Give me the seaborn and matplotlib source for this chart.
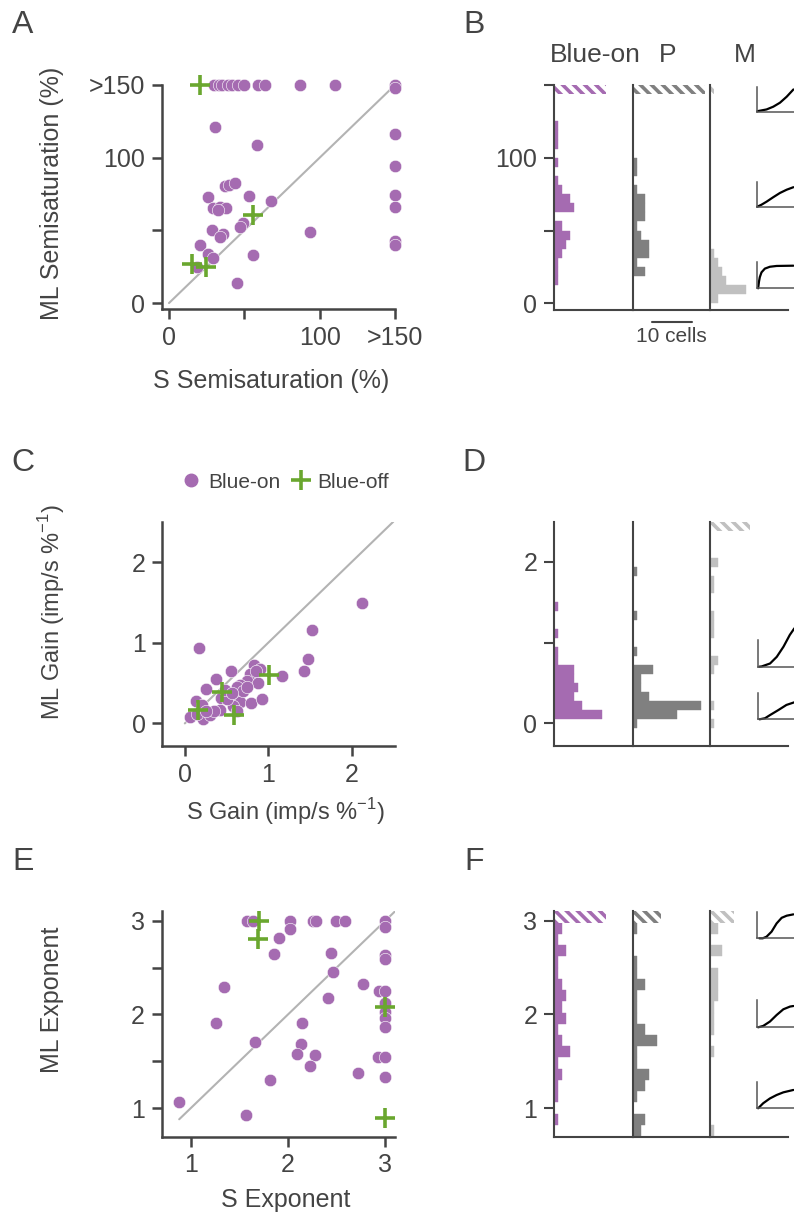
import numpy as np
import pandas as pd
import matplotlib
matplotlib.use("Agg")
import matplotlib.pyplot as plt
from matplotlib.lines import Line2D
import seaborn as sns

# ---------------- data ----------------
# Panel A (semisaturation, %; values >150 plotted at 150)
a_on_x = [30, 33, 35.5, 39, 42, 46, 49.5, 59.4, 64, 87, 110, 150,
          150, 150, 150, 150, 150, 150, 150,
          30.6, 58.3, 37, 40, 44, 25.7, 53.2, 67.6, 29.5, 34, 38, 32.8, 49.4, 47.2,
          28.8, 35.7, 34, 93.8, 20.6, 26.2, 29, 55.7, 18.4, 45]
a_on_y = [150, 150, 150, 150, 150, 150, 150, 150, 150, 150, 150, 150,
          148, 116, 94, 74, 66, 43, 40,
          121, 108.7, 80.7, 81, 82.4, 72.7, 73.6, 70.4, 65.2, 66, 65.5, 64, 55.3, 52.5,
          50.2, 47.5, 45.6, 48.6, 39.9, 33.7, 30.7, 33, 25, 14]
a_off_x = [20.4, 56, 15.1, 24.6]
a_off_y = [150, 60.6, 26.8, 24.5]
diag_a = [0, 150]

# Panel C (gain, imp/s %^-1)
c_on_x = [2.13, 1.53, 1.48, 1.43, 1.16, 0.17, 0.83, 0.90, 0.78, 0.55, 0.37, 0.74, 0.66,
          0.63, 0.88, 0.25, 0.43, 0.61, 0.13, 0.20, 0.06, 0.22, 0.30, 0.42, 0.66, 0.79,
          0.92, 0.58, 0.70, 0.50, 0.35, 0.15, 0.25, 0.62, 0.48, 0.74, 0.56, 0.85]
c_on_y = [1.49, 1.16, 0.80, 0.65, 0.59, 0.93, 0.72, 0.67, 0.61, 0.65, 0.55, 0.53, 0.48,
          0.45, 0.50, 0.43, 0.32, 0.34, 0.28, 0.23, 0.08, 0.06, 0.10, 0.16, 0.26, 0.25,
          0.30, 0.21, 0.40, 0.30, 0.15, 0.12, 0.15, 0.15, 0.42, 0.45, 0.38, 0.65]
c_off_x = [0.16, 0.44, 0.59, 1.01]
c_off_y = [0.17, 0.39, 0.10, 0.60]
diag_c = [0, 2.5]

# Panel E (exponent)
e_on_x = [1.58, 1.64, 2.02, 2.26, 2.29, 2.49, 2.59, 3.0,
          3.0, 2.02, 1.91, 1.86, 2.44, 3.0, 3.0, 2.46, 1.34, 2.77,
          2.94, 3.0, 2.41, 3.0, 3.0, 3.0, 3.0, 1.26, 2.14, 1.66,
          2.13, 2.09, 2.28, 2.23, 2.92, 3.0, 2.72, 3.0, 1.81, 0.88, 1.57]
e_on_y = [3, 3, 3, 3, 3, 3, 3, 3,
          2.93, 2.91, 2.82, 2.64, 2.66, 2.63, 2.59, 2.45, 2.29, 2.32,
          2.25, 2.25, 2.17, 2.12, 2.03, 1.96, 1.87, 1.91, 1.91, 1.70,
          1.68, 1.58, 1.57, 1.45, 1.55, 1.55, 1.37, 1.33, 1.30, 1.06, 0.93]
e_off_x = [1.70, 1.69, 3.0, 3.0]
e_off_y = [3.0, 2.81, 2.08, 0.89]
diag_e = [0.88, 3.1]

# Histograms (cell counts per bin; *_over = overflow bin, drawn hatched)
b_edges = np.linspace(0, 150, 25)
b_on = [0, 0, 1, 1, 1, 2, 3, 4, 2, 0, 5, 4, 2, 1, 0, 1, 0, 1, 1, 1, 0, 0, 0]
b_on_over = 13
b_p = [0, 0, 0, 3, 1, 4, 4, 2, 1, 3, 3, 3, 1, 0, 1, 1, 0, 0, 0, 0, 0, 0, 0]
b_p_over = 18
b_m = [2, 9, 4, 3, 2, 1, 0, 0, 0, 0, 0, 0, 0, 0, 0, 0, 0, 0, 0, 0, 0, 0, 0]
b_m_over = 1

d_edges = np.linspace(-0.06, 2.5, 24)
d_on = [0, 12, 7, 5, 6, 5, 5, 1, 1, 0, 1, 0, 0, 1, 0, 0, 0, 0, 0, 0, 0, 0]
d_on_over = 0
d_p = [1, 11, 17, 4, 2, 2, 5, 0, 1, 0, 0, 0, 1, 0, 0, 0, 0, 1, 0, 0, 0, 0]
d_p_over = 0
d_m = [1, 0, 1, 0, 0, 0, 1, 2, 0, 0, 1, 1, 1, 0, 0, 1, 1, 0, 2, 0, 0, 0]
d_m_over = 10

f_edges = np.linspace(0.70, 3.10, 21)
f_on = [0, 1, 0, 1, 1, 2, 1, 4, 2, 1, 3, 2, 3, 2, 1, 1, 3, 1, 2]
f_on_over = 13
f_p = [2, 3, 0, 1, 3, 4, 1, 1, 6, 3, 1, 1, 1, 3, 1, 1, 0, 0, 1]
f_p_over = 7
f_m = [1, 0, 0, 0, 0, 0, 0, 1, 0, 1, 1, 1, 2, 2, 2, 0, 3, 0, 2]
f_m_over = 6

scale_cells = 10

# Inset response-curve shapes (normalised units)
ins_b1_x = [0.0, 0.22, 0.38, 0.54, 0.70, 0.86]
ins_b1_y = [0.02, 0.09, 0.20, 0.36, 0.60, 0.89]
ins_b2_x = [0.0, 0.10, 0.22, 0.38, 0.54, 0.70, 0.86]
ins_b2_y = [0.0, 0.08, 0.20, 0.38, 0.55, 0.68, 0.78]
ins_b3_x = [0.02, 0.04, 0.06, 0.10, 0.18, 0.30, 0.46, 0.86]
ins_b3_y = [0.0, 0.25, 0.42, 0.60, 0.74, 0.81, 0.84, 0.85]
ins_d1_x = [0.02, 0.08, 0.28, 0.44, 0.60, 0.75, 0.86]
ins_d1_y = [0.0, 0.01, 0.12, 0.37, 0.75, 1.19, 1.44]
ins_d2_x = [0.03, 0.16, 0.28, 0.48, 0.67, 0.86]
ins_d2_y = [0.0, 0.04, 0.16, 0.35, 0.54, 0.64]
ins_f1_x = [0.05, 0.13, 0.22, 0.34, 0.46, 0.58, 0.70, 0.86]
ins_f1_y = [0.0, 0.0, 0.06, 0.25, 0.56, 0.77, 0.85, 0.90]
ins_f2_x = [0.02, 0.14, 0.30, 0.46, 0.62, 0.78, 0.86]
ins_f2_y = [0.0, 0.05, 0.21, 0.45, 0.66, 0.76, 0.78]
ins_f3_x = [0.02, 0.14, 0.30, 0.46, 0.62, 0.86]
ins_f3_y = [0.0, 0.19, 0.37, 0.50, 0.60, 0.69]

# ---------------- style ----------------
sns.set_style("ticks")
plt.rcParams["font.family"] = ["Liberation Sans", "DejaVu Sans"]
plt.rcParams["hatch.linewidth"] = 2.6
PURPLE = "#a56bb1"
GREEN = "#6aa72f"
PGRAY = "#808080"
MGRAY = "#c0c0c0"
DIAG = "#b3b3b3"
INK = "#444444"
FS = 18
TS = 18

W, H = 794, 1222
fig = plt.figure(figsize=(W / 100, H / 100), dpi=100, facecolor="white")


def add_ax(x0, y0, x1, y1):
    return fig.add_axes([x0 / W, 1 - y1 / H, (x1 - x0) / W, (y1 - y0) / H])


def style_axis(ax, lw=1.8):
    sns.despine(ax=ax)
    for s in ("left", "bottom"):
        ax.spines[s].set_color(INK)
        ax.spines[s].set_linewidth(lw)
    ax.tick_params(direction="out", length=7, width=lw, color=INK,
                   labelcolor=INK, labelsize=TS, pad=5)
    ax.set_xlabel("")
    ax.set_ylabel("")


def scatter_panel(ax, onx, ony, offx, offy, diag):
    ax.plot(diag, diag, color=DIAG, lw=1.5, zorder=1)
    sns.scatterplot(x=onx, y=ony, ax=ax, color=PURPLE, s=80, edgecolor="white",
                    linewidth=0.4, clip_on=False, zorder=3)
    sns.scatterplot(x=offx, y=offy, ax=ax, marker="+", color=GREEN,
                    s=190, linewidth=2.6, clip_on=False, zorder=4)


def hist_panel(ax, edges, counts, over, color):
    e = np.asarray(edges, dtype=float)
    centers = (e[:-2] + e[1:-1]) / 2
    df = pd.DataFrame({"v": centers, "w": np.asarray(counts, dtype=float)})
    sns.histplot(data=df, y="v", weights="w", bins=list(e[:-1]), ax=ax, color=color,
                 alpha=1, edgecolor=color, linewidth=0.3)
    if over > 0:
        ax.barh(y=(e[-2] + e[-1]) / 2, width=over, height=e[-1] - e[-2], left=0,
                color="white", edgecolor=color, hatch="\\\\\\", linewidth=0)


def hist_row(y0, y1, edges, data, ylim, yticks, yticklabels):
    xs = [554, 632.7, 710, 788]
    axes = []
    for i, (cnt, over, col) in enumerate(data):
        ax = add_ax(xs[i], y0, xs[i + 1], y1)
        hist_panel(ax, edges, cnt, over, col)
        ax.set_xlim(0, (xs[i + 1] - xs[i]) / 4)
        ax.set_ylim(*ylim)
        style_axis(ax, lw=1.5)
        ax.set_xticks([])
        if i == 0:
            ax.set_yticks(yticks)
            ax.set_yticklabels(yticklabels)
        else:
            ax.set_yticks([])
        axes.append(ax)
    return axes


def inset(x0, y0, h, xs, ys):
    ax = add_ax(x0, y0, x0 + 42, y0 + h)
    ax.plot(xs, ys, color="black", lw=1.6, clip_on=False)
    ax.set_xlim(0, 1)
    ax.set_ylim(0, 1)
    sns.despine(ax=ax)
    for s in ("left", "bottom"):
        ax.spines[s].set_color("#555555")
        ax.spines[s].set_linewidth(1.1)
    ax.set_xticks([])
    ax.set_yticks([])
    ax.patch.set_alpha(0)
    return ax


# ---------------- Panel A ----------------
axA = add_ax(162, 85, 395, 309)
scatter_panel(axA, a_on_x, a_on_y, a_off_x, a_off_y, diag_a)
axA.set_xlim(-4.65, 150)
axA.set_ylim(-4.1, 150)
style_axis(axA)
axA.set_xticks([0, 50, 100, 150])
axA.set_xticklabels(["0", "", "100", ">150"])
axA.set_yticks([0, 50, 100, 150])
axA.set_yticklabels(["0", "", "100", ">150"])

# ---------------- Panel B ----------------
axB = hist_row(85, 310, b_edges,
               [(b_on, b_on_over, PURPLE), (b_p, b_p_over, PGRAY), (b_m, b_m_over, MGRAY)],
               (-4.6, 150), [0, 50, 100, 150], ["0", "", "100", ""])
trP = axB[1].get_xaxis_transform()
axB[1].plot([4.75, 4.75 + scale_cells], [-0.052, -0.052], transform=trP,
            color=INK, lw=1.5, clip_on=False)
axB[1].text(4.75 + scale_cells / 2, -0.118, f"{scale_cells} cells", transform=trP,
            ha="center", va="center", fontsize=15, color=INK)

# ---------------- Panel C ----------------
axC = add_ax(162.3, 521.7, 395, 746)
scatter_panel(axC, c_on_x, c_on_y, c_off_x, c_off_y, diag_c)
axC.set_xlim(-0.27, 2.52)
axC.set_ylim(-0.28, 2.5)
style_axis(axC)
axC.set_xticks([0, 1, 2])
axC.set_yticks([0, 1, 2])

# ---------------- Panel D ----------------
hist_row(521.7, 745.7, d_edges,
         [(d_on, d_on_over, PURPLE), (d_p, d_p_over, PGRAY), (d_m, d_m_over, MGRAY)],
         (-0.28, 2.5), [0, 1, 2], ["0", "", "2"])

# ---------------- Panel E ----------------
axE = add_ax(161.7, 910.7, 395, 1136.7)
scatter_panel(axE, e_on_x, e_on_y, e_off_x, e_off_y, diag_e)
axE.set_xlim(0.70, 3.10)
axE.set_ylim(0.694, 3.107)
style_axis(axE)
axE.set_xticks([1, 2, 3])
axE.set_yticks([1, 1.5, 2, 2.5, 3])
axE.set_yticklabels(["1", "", "2", "", "3"])

# ---------------- Panel F ----------------
hist_row(910.7, 1136.7, f_edges,
         [(f_on, f_on_over, PURPLE), (f_p, f_p_over, PGRAY), (f_m, f_m_over, MGRAY)],
         (0.694, 3.107), [1, 2, 3], ["1", "2", "3"])

# ---------------- insets ----------------
inset(757.3, 86.7, 25, ins_b1_x, ins_b1_y)
inset(757.3, 181.7, 25, ins_b2_x, ins_b2_y)
inset(757.3, 261.7, 26.6, ins_b3_x, ins_b3_y)
inset(758.3, 640, 26.7, ins_d1_x, ins_d1_y)
inset(758.3, 692.7, 26.6, ins_d2_x, ins_d2_y)
inset(757.3, 911.7, 26.6, ins_f1_x, ins_f1_y)
inset(757.3, 1000, 27.3, ins_f2_x, ins_f2_y)
inset(757.3, 1081.7, 26.6, ins_f3_x, ins_f3_y)


# ---------------- texts ----------------
def ftext(x, y, s, **kw):
    kw.setdefault("color", INK)
    kw.setdefault("ha", "center")
    kw.setdefault("va", "center")
    fig.text(x / W, 1 - y / H, s, **kw)


for lab, (x, y) in zip("ABCDEF", [(23, 25), (474, 25), (23, 463), (474, 463), (23, 862), (474, 862)]):
    ftext(x, y, lab, fontsize=23)

ftext(52, 193, "ML Semisaturation (%)", fontsize=FS, rotation=90)
ftext(271, 381, "S Semisaturation (%)", fontsize=FS)
ftext(52, 612, "ML Gain (imp/s %$^{\\mathregular{-1}}$)", fontsize=17, rotation=90)
ftext(285, 812, "S Gain (imp/s %$^{\\mathregular{-1}}$)", fontsize=17)
ftext(52, 1000, "ML Exponent", fontsize=FS, rotation=90)
ftext(286, 1200, "S Exponent", fontsize=FS)

ftext(595, 55, "Blue-on", fontsize=19)
ftext(668, 55, "P", fontsize=19)
ftext(745, 55, "M", fontsize=19)

handles = [Line2D([], [], ls="", marker="o", color=PURPLE, markersize=9),
           Line2D([], [], ls="", marker="+", color=GREEN, markersize=14, markeredgewidth=2.6)]
leg = fig.legend(handles, ["Blue-on", "Blue-off"], loc="center",
                 bbox_to_anchor=(285 / W, 1 - 482 / H), ncol=2, frameon=False,
                 handletextpad=0.3, columnspacing=0.5, handlelength=1.0, fontsize=15)
for t in leg.get_texts():
    t.set_color(INK)

fig.savefig("out.png", dpi=100, facecolor="white")
